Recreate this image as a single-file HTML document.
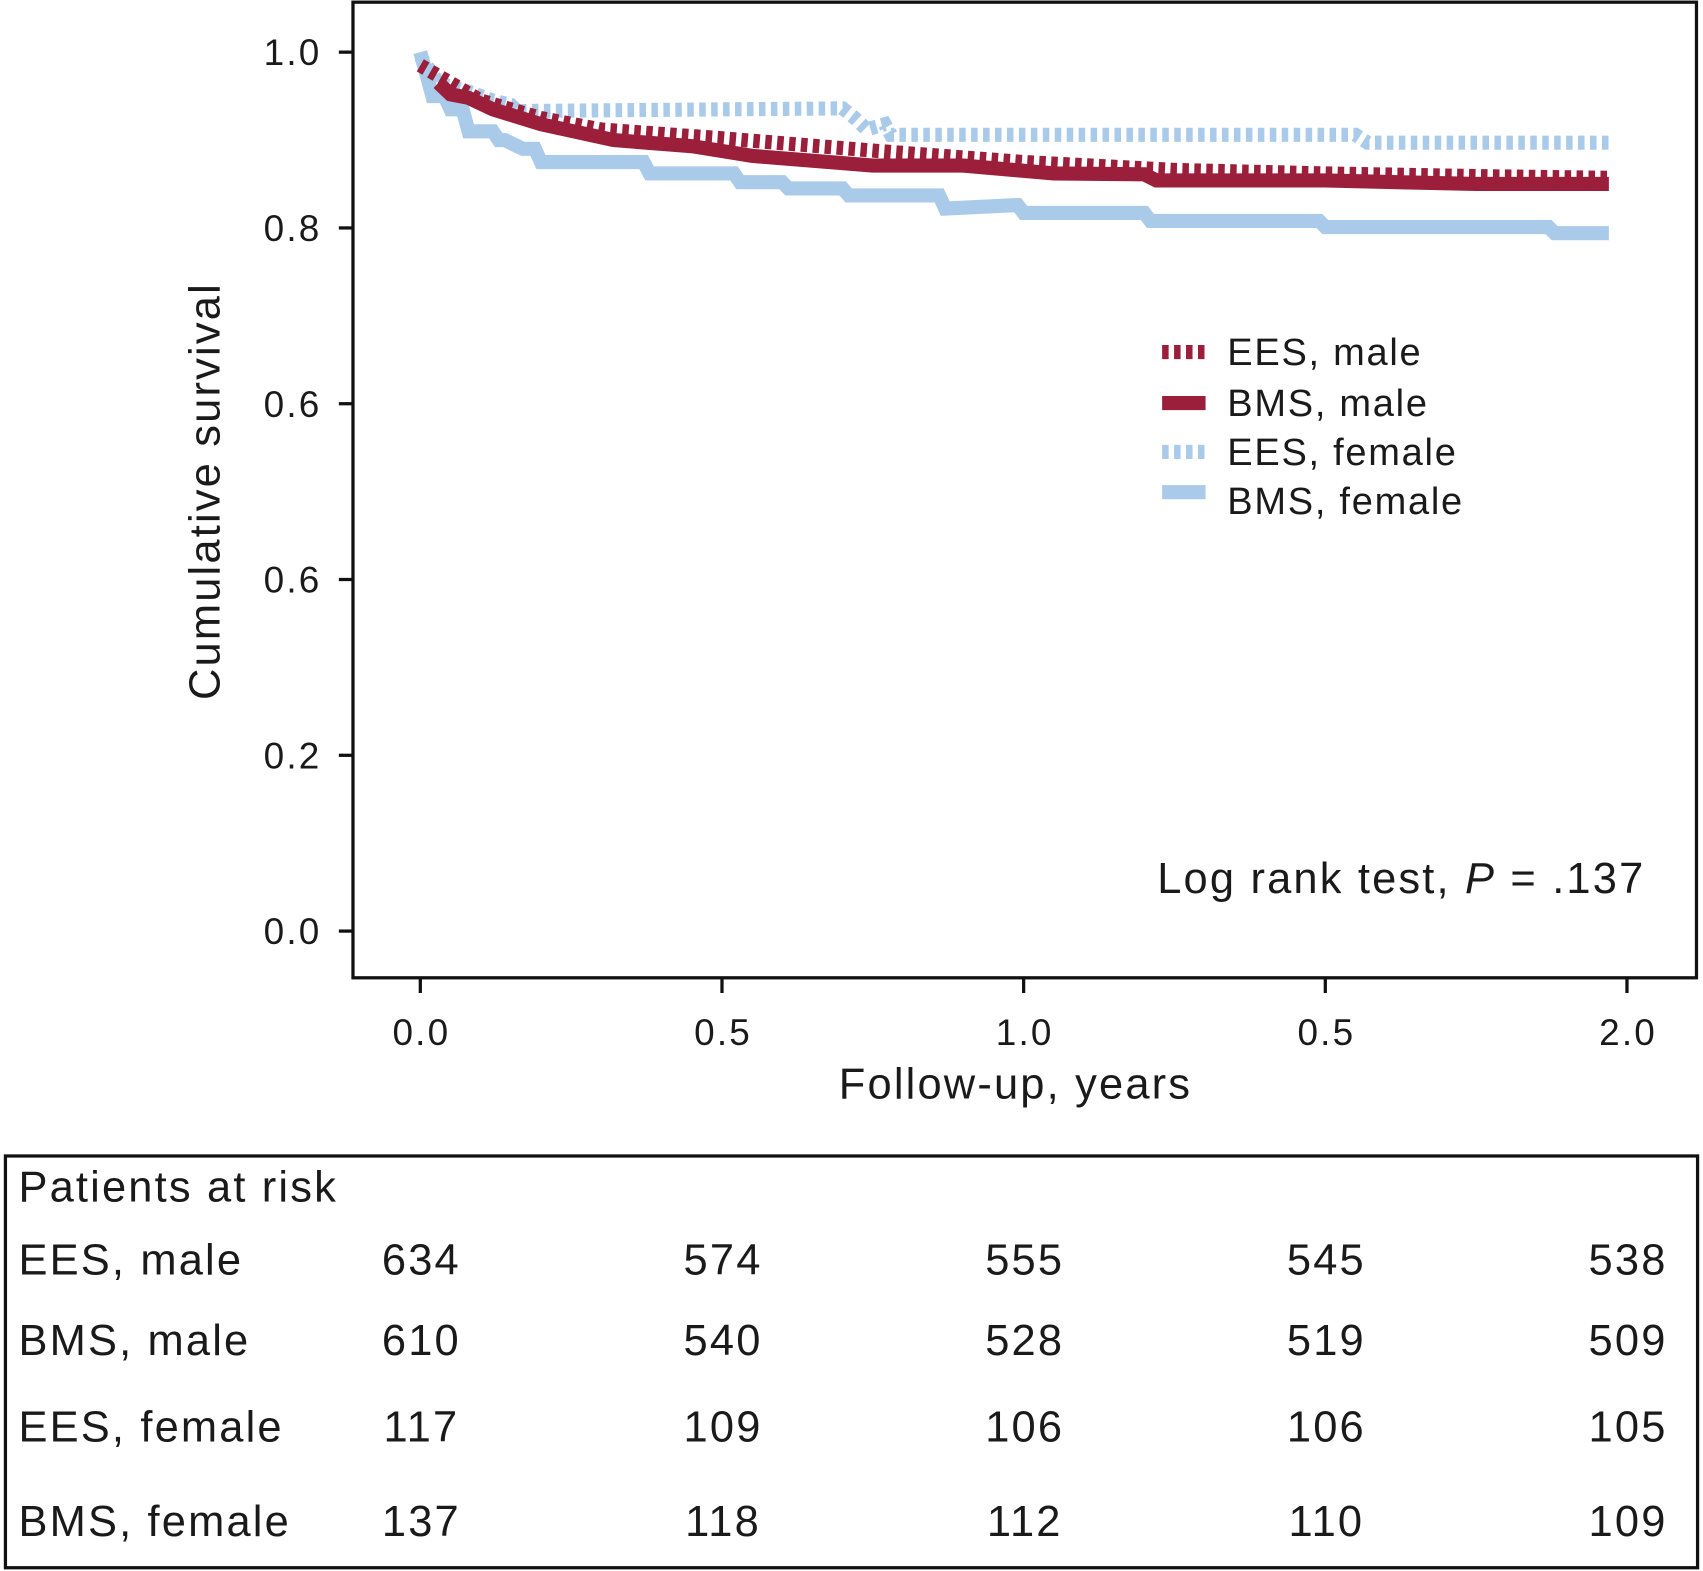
<!DOCTYPE html>
<html><head><meta charset="utf-8"><style>
html,body{margin:0;padding:0;background:#fff;}
svg{display:block;}
text{font-family:"Liberation Sans",Arial,sans-serif;fill:#1a1a1a;letter-spacing:2px;}
</style></head><body>
<svg id="chart" width="1703" height="1571" viewBox="0 0 1568 1446" preserveAspectRatio="none" xmlns="http://www.w3.org/2000/svg">
<rect x="325" y="2" width="1237" height="898" fill="none" stroke="#111" stroke-width="3"/>
<g id="yaxis"></g>
<g id="xaxis"></g>
<text transform="translate(202,452) rotate(-90)" text-anchor="middle" font-size="40">Cumulative survival</text>
<text x="935" y="1011" text-anchor="middle" font-size="40">Follow-up, years</text>
<g id="series"></g>
<g style="letter-spacing:1.6px">
<line x1="1070" y1="324" x2="1110" y2="324" stroke="#9b1f3a" stroke-width="13" stroke-dasharray="6,5"/>
<text x="1130" y="336" font-size="35" style="letter-spacing:1.6px">EES, male</text>
<line x1="1070" y1="371" x2="1110" y2="371" stroke="#9b1f3a" stroke-width="13"/>
<text x="1130" y="383" font-size="35" style="letter-spacing:1.6px">BMS, male</text>
<line x1="1070" y1="416" x2="1110" y2="416" stroke="#a9cbe9" stroke-width="13" stroke-dasharray="6,5"/>
<text x="1130" y="428" font-size="35" style="letter-spacing:1.6px">EES, female</text>
<line x1="1070" y1="453" x2="1110" y2="453" stroke="#a9cbe9" stroke-width="13"/>
<text x="1130" y="473" font-size="35" style="letter-spacing:1.6px">BMS, female</text>
</g>
<text x="1515" y="822" text-anchor="end" font-size="40">Log rank test, <tspan font-style="italic">P</tspan> = .137</text>
<rect x="5" y="1064" width="1558" height="379" fill="none" stroke="#111" stroke-width="3"/>
<g id="risktable"></g>
</svg>
<script>
const yTickValues=[1.0,0.8,0.6,0.4,0.2,0.0];
const yTickLabels=["1.0","0.8","0.6","0.6","0.2","0.0"];
const xTickValues=[0,0.5,1.0,1.5,2.0];
const xTickLabels=["0.0","0.5","1.0","0.5","2.0"];
const eesMaleT=[0,0.05,0.1,0.2,0.3,0.5,0.75,1.0,1.25,1.5,1.75,1.97];
const eesMaleV=[0.985,0.965,0.945,0.925,0.912,0.902,0.888,0.875,0.866,0.862,0.859,0.857];
const bmsMaleT=[0.03,0.05,0.08,0.12,0.2,0.32,0.45,0.55,0.75,0.9,1.05,1.2,1.22,1.5,1.75,1.97];
const bmsMaleV=[0.965,0.952,0.948,0.935,0.918,0.9,0.893,0.882,0.871,0.871,0.862,0.861,0.854,0.854,0.85,0.85];
const eesFemT=[0,0.03,0.08,0.12,0.15,0.16,0.7,0.72,0.74,0.77,0.78,0.79,1.55,1.57,1.97];
const eesFemV=[0.995,0.965,0.955,0.945,0.94,0.933,0.936,0.925,0.912,0.918,0.906,0.906,0.906,0.897,0.897];
const bmsFemT=[0,0.02,0.04,0.05,0.07,0.08,0.12,0.13,0.14,0.17,0.19,0.2,0.37,0.38,0.52,0.53,0.6,0.61,0.7,0.71,0.86,0.87,0.99,1.0,1.2,1.21,1.49,1.5,1.87,1.88,1.97];
const bmsFemV=[1.0,0.95,0.95,0.935,0.935,0.91,0.91,0.9,0.9,0.89,0.89,0.875,0.875,0.862,0.862,0.852,0.852,0.845,0.845,0.837,0.837,0.822,0.826,0.817,0.817,0.808,0.808,0.801,0.801,0.794,0.794];
const riskLabels=["EES, male","BMS, male","EES, female","BMS, female"];
const riskEesMale=[634,574,555,545,538];
const riskBmsMale=[610,540,528,519,509];
const riskEesFem=[117,109,106,106,105];
const riskBmsFem=[137,118,112,110,109];

const NS="http://www.w3.org/2000/svg";
function xS(t){return 387+t*555.5;}
function yS(v){return 857-v*809;}
function mk(tag,attrs,parent){const e=document.createElementNS(NS,tag);for(const k in attrs)e.setAttribute(k,attrs[k]);parent.appendChild(e);return e;}
const ya=document.getElementById('yaxis');
yTickValues.forEach((v,i)=>{
 const l=mk('line',{x1:312,x2:325,y1:yS(v),y2:yS(v),stroke:'#111','stroke-width':3},ya);
 
 
 const t=mk('text',{x:296,y:yS(v)+12,'text-anchor':'end','font-size':34},ya);
 
 
 t.textContent=yTickLabels[i];
});
const xa=document.getElementById('xaxis');
xTickValues.forEach((v,i)=>{
 const l=mk('line',{x1:xS(v),x2:xS(v),y1:900,y2:914,stroke:'#111','stroke-width':3},xa);
 
 
 const t=mk('text',{x:xS(v)+1,y:962,'text-anchor':'middle','font-size':34},xa);
 
 
 t.textContent=xTickLabels[i];
});
const sg=document.getElementById('series');
function line(T,V,color,dash,name){
 const pts=T.map((t,i)=>xS(t)+','+yS(V[i])).join(' ');
 const a={points:pts,fill:'none',stroke:color,'stroke-width':13,'stroke-linejoin':'miter'};
 if(dash)a['stroke-dasharray']='6,5';
 const p=mk('polyline',a,sg);
 
 
}
line(bmsFemT,bmsFemV,'#a9cbe9',false,'curve-bms-female');
line(eesFemT,eesFemV,'#a9cbe9',true,'curve-ees-female');
line(bmsMaleT,bmsMaleV,'#9b1f3a',false,'curve-bms-male');
line(eesMaleT,eesMaleV,'#9b1f3a',true,'curve-ees-male');
const rt=document.getElementById('risktable');
const h=mk('text',{x:17,y:1106,'font-size':40},rt);


h.textContent='Patients at risk';
const rows=[riskEesMale,riskBmsMale,riskEesFem,riskBmsFem];
const rowY=[1173,1247,1327,1414];
rows.forEach((r,i)=>{
 const lb=mk('text',{x:17,y:rowY[i],'font-size':40},rt);
 
 
 lb.textContent=riskLabels[i];
 r.forEach((n,j)=>{
  const c=mk('text',{x:xS(xTickValues[j])+1,y:rowY[i],'text-anchor':'middle','font-size':40},rt);
  
  
  c.textContent=n;
 });
});
</script>
</body></html>
